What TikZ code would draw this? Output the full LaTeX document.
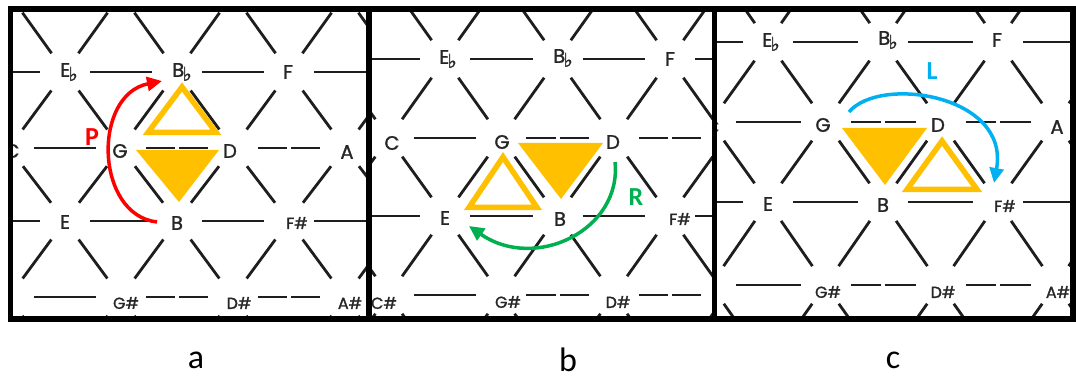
\documentclass[tikz,border=0pt]{standalone}
\usepackage{fontspec}
\setmainfont{Carlito}
\newfontfamily\notefont[FakeBold=1.3]{Poppins}
\newfontfamily\symfont[FakeBold=1.5]{DejaVu Sans}
\usetikzlibrary{arrows.meta,calc}
\definecolor{gold}{HTML}{FFC000}
\definecolor{pred}{HTML}{FF0000}
\definecolor{rgreen}{HTML}{00B050}
\definecolor{lblue}{HTML}{00B0F0}
\definecolor{latline}{HTML}{1E1E1E}
\definecolor{notecol}{HTML}{262626}
\newcommand{\flt}{{\symfont\fontsize{19}{19}\selectfont\kern-1.5pt\raisebox{-4pt}{♭}}}

\tikzset{
 edge/.style={draw=latline, line width=2.8pt, shorten >=23pt, shorten <=23pt},
 hedge/.style={draw=latline, line width=2.8pt, shorten >=25pt, shorten <=25pt},
 note/.style={font=\notefont\fontsize{19.5}{19.5}\selectfont, text=notecol, inner sep=0pt},
 sharpnote/.style={font=\notefont\fontsize{16}{16}\selectfont, text=notecol, inner sep=0pt},
 hollow/.style={draw=gold, line width=5.5pt, line join=miter},
 solidtri/.style={fill=gold},
 arr/.style={line width=3.5pt, -{Triangle[length=15pt,width=14pt]}},
 oplabel/.style={font=\bfseries\fontsize{26}{26}\selectfont, inner sep=0pt},
 panellabel/.style={font=\fontsize{34}{34}\selectfont, inner sep=0pt},
 frame/.style={line width=5.5pt, draw=black},
}

% #1 prefix, #2 x of Eb column, #3 dx, #4 list r/y
\newcommand{\drawlattice}[4]{%
 \foreach \r/\yy in {#4} {
   \foreach \c in {-2,...,5} {
     \pgfmathsetmacro\xx{#2+#3*(\c+0.5*(1-mod(\r,2)))}
     \coordinate (#1-\r-\c) at (\xx,\yy);
   }
 }
 \pgfmathsetlengthmacro\dl{#3/2-27}
 \foreach \r in {0,...,5} {
   \foreach \c in {-2,...,4} {
     \pgfmathtruncatemacro\cn{\c+1}
     \pgfmathtruncatemacro\brk{and(or(\r==2,\r==4),\c>=0)}
     \ifnum\brk=1
       \draw[hedge, dash pattern=on \dl off 4pt on 300pt] (#1-\r-\c) -- (#1-\r-\cn);
     \else
       \draw[hedge] (#1-\r-\c) -- (#1-\r-\cn);
     \fi
   }
 }
 \foreach \r in {0,...,4} {
   \pgfmathtruncatemacro\rn{\r+1}
   \foreach \c in {-1,...,4} {
     \pgfmathtruncatemacro\cn{\c+1}
     \pgfmathtruncatemacro\cp{\c-1}
     \ifodd\r\relax
       \draw[edge] (#1-\r-\c) -- (#1-\rn-\cp);
       \draw[edge] (#1-\r-\c) -- (#1-\rn-\c);
     \else
       \draw[edge] (#1-\r-\c) -- (#1-\rn-\c);
       \draw[edge] (#1-\r-\c) -- (#1-\rn-\cn);
     \fi
   }
 }
}

\begin{document}
\begin{tikzpicture}[x=1pt,y=-1pt]
\useasboundingbox (0,0) rectangle (1076,379);
\fill[white] (0,0) rectangle (1076,379);

% ---------------- panel a
\begin{scope}
\clip (13,12) rectangle (366,316);
\drawlattice{a}{65}{112}{0/-6,1/72,2/148,3/221,4/297,5/376}
\node[note] (aEb) at (69,72) {E\flt};
\node[note] (aBb) at (182,72) {B\flt};
\node[note] (aF) at (288,72) {F};
\node[note] (aC) at (12,151) {C};
\node[note] (aG) at (120,151) {G};
\node[note] (aD) at (230,151) {D};
\node[note] (aA) at (347,152) {A};
\node[note] (aE) at (65,222) {E};
\node[note] (aB) at (177,223) {B};
\node[sharpnote] (aFs) at (297,223) {F\#};
\node[sharpnote] (aGs) at (126,303) {G\#};
\node[sharpnote] (aDs) at (239,303) {D\#};
\node[sharpnote] (aAs) at (350,303) {A\#};
\draw[hollow] (182,87) -- (148,132.5) -- (216,132.5) -- cycle;
\fill[solidtri] (136,150) -- (219,150) -- (179,202) -- cycle;
\coordinate (pS) at (157,222);
\coordinate (pE) at (162,81);
\draw[arr, pred] (pS) .. controls (95,215) and (92,95) .. (pE);
\node[oplabel, text=pred] (pLab) at (92,137) {P};
\end{scope}

% ---------------- panel b
\begin{scope}
\clip (372,12) rectangle (712,316);
\drawlattice{b}{445}{112.5}{0/-20,1/59,2/138,3/216,4/295,5/374}
\node[note] (bEb) at (448,59) {E\flt};
\node[note] (bBb) at (563,58) {B\flt};
\node[note] (bF) at (670,59) {F};
\node[note] (bC) at (392,143) {C};
\node[note] (bG) at (502,142) {G};
\node[note] (bD) at (613,142) {D};
\node[note] (bE) at (445,218) {E};
\node[note] (bB) at (560,219) {B};
\node[sharpnote] (bFs) at (680,219) {F\#};
\node[sharpnote] (bCs) at (384,303) {C\#};
\node[sharpnote] (bGs) at (508,302) {G\#};
\node[sharpnote] (bDs) at (618,302) {D\#};
\draw[hollow] (503,157) -- (469,207.5) -- (537,207.5) -- cycle;
\fill[solidtri] (518,143) -- (603,143) -- (561,199) -- cycle;
\coordinate (rS) at (615,162);
\coordinate (rE) at (469,226);
\draw[arr, rgreen] (rS) .. controls (622,230) and (535,272) .. (rE);
\node[oplabel, text=rgreen] (rLab) at (636,197) {R};
\end{scope}

% ---------------- panel c
\begin{scope}
\clip (717,12) rectangle (1071,316);
\drawlattice{c}{768}{115}{0/-40,1/42,2/122,3/202,4/285,5/366}
\node[note] (cEb) at (771,42) {E\flt};
\node[note] (cBb) at (888,40) {B\flt};
\node[note] (cF) at (997,40) {F};
\node[note] (cC) at (712,127) {C};
\node[note] (cG) at (823,125) {G};
\node[note] (cD) at (938,125) {D};
\node[note] (cA) at (1057,127) {A};
\node[note] (cE) at (768,204) {E};
\node[note] (cB) at (883,205) {B};
\node[sharpnote] (cFs) at (1005,206) {F\#};
\node[sharpnote] (cGs) at (828,292) {G\#};
\node[sharpnote] (cDs) at (943,292) {D\#};
\node[sharpnote] (cAs) at (1058,292) {A\#};
\fill[solidtri] (842,128) -- (927,128) -- (885,185) -- cycle;
\draw[hollow] (942,141) -- (907,189.5) -- (977,189.5) -- cycle;
\coordinate (lS) at (849,112);
\coordinate (lE) at (994,183);
\draw[arr, lblue] (lS) .. controls (880,75) and (1010,95) .. (lE);
\node[oplabel, text=lblue] (lLab) at (932,71) {L};
\end{scope}

% frames
\draw[frame] (10.5,9) rectangle (1073,319);
\draw[frame] (369,9) -- (369,319);
\draw[frame] (714.5,9) -- (714.5,319);

% panel labels
\node[panellabel] (labA) at (196,360) {a};
\node[panellabel] (labB) at (568,360) {b};
\node[panellabel] (labC) at (893,360) {c};
\end{tikzpicture}
\end{document}
